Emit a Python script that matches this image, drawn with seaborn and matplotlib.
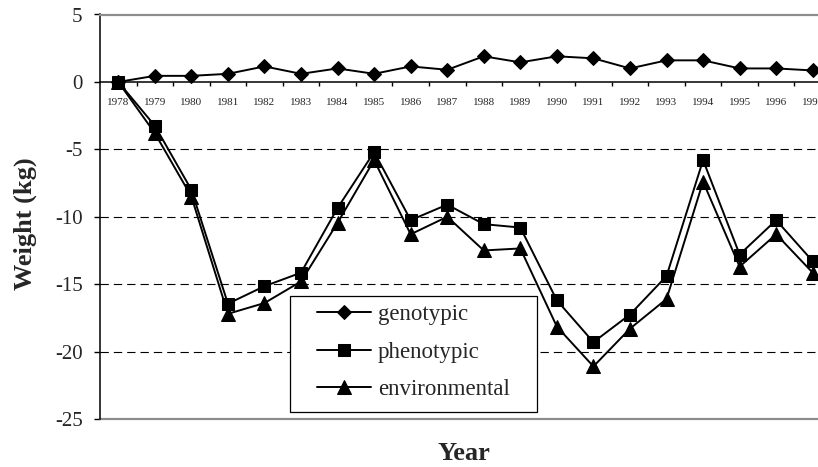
import numpy as np
import pandas as pd
import matplotlib
matplotlib.use("Agg")
import matplotlib.pyplot as plt
from matplotlib.patches import Rectangle
from matplotlib.ticker import FixedLocator
import seaborn as sns

years = list(range(1978, 1998))
genotypic = [0.0, 0.45, 0.45, 0.6, 1.15, 0.6, 1.0, 0.6, 1.15, 0.9,
             1.9, 1.45, 1.9, 1.75, 1.0, 1.6, 1.6, 1.0, 1.0, 0.85]
phenotypic = [0.0, -3.25, -8.0, -16.45, -15.15, -14.15, -9.35, -5.2, -10.25, -9.1,
              -10.55, -10.8, -16.2, -19.3, -17.25, -14.4, -5.8, -12.8, -10.25, -13.3]
environmental = [0.0, -3.8, -8.5, -17.2, -16.4, -14.8, -10.45, -5.8, -11.3, -10.0,
                 -12.5, -12.35, -18.15, -21.1, -18.3, -16.1, -7.4, -13.7, -11.3, -14.15]
series_names = ["genotypic", "phenotypic", "environmental"]
y_ticks = [5, 0, -5, -10, -15, -20, -25]
x_label = "Year"
y_label = "Weight (kg)"

df = pd.DataFrame({
    "year": years * 3,
    "weight": genotypic + phenotypic + environmental,
    "series": sum([[n] * len(years) for n in series_names], []),
})

sns.set_style("white")
plt.rcParams["font.family"] = ["Liberation Serif", "DejaVu Serif"]

W, H = 818, 467
fig = plt.figure(figsize=(W / 100, H / 100), dpi=100)
ax_left, ax_right, ax_top, ax_bottom = 100, 831, 14.5, 419
ax = fig.add_axes([ax_left / W, (H - ax_bottom) / H,
                   (ax_right - ax_left) / W, (ax_bottom - ax_top) / H])

styles = {"genotypic": ("D", 6.8), "phenotypic": ("s", 8.8), "environmental": ("^", 9.6)}
for name in series_names:
    m, ms = styles[name]
    sns.lineplot(data=df[df["series"] == name], x="year", y="weight", ax=ax,
                 color="black", marker=m, markersize=ms, markeredgecolor="black",
                 linewidth=1.4, label=name, zorder=3, clip_on=True)

ax.set_xlim(years[0] - 0.5, years[-1] + 0.5)
ax.set_ylim(min(y_ticks), max(y_ticks))

# y axis
ax.yaxis.set_major_locator(FixedLocator(y_ticks))
ax.set_yticklabels([str(t) for t in y_ticks])
ax.tick_params(axis="y", which="major", direction="out", length=4.5, width=1,
               color="black", pad=8, labelsize=15, left=True)
ax.grid(axis="y", color="black", lw=0.8, ls=(0, (7.5, 4.5)))
ax.grid(axis="x", visible=False)
for t, loc in zip(ax.yaxis.get_major_ticks(), ax.yaxis.get_majorticklocs()):
    if loc in (max(y_ticks), min(y_ticks), 0):
        t.gridline.set_visible(False)

# x axis at zero
ax.spines["bottom"].set_position(("data", 0))
ax.spines["bottom"].set_color("black")
ax.spines["bottom"].set_linewidth(1.1)
ax.spines["left"].set_color("black")
ax.spines["left"].set_linewidth(1.1)
ax.spines["top"].set_color("#8c8c8c")
ax.spines["top"].set_linewidth(1.6)
ax.spines["right"].set_visible(False)
ax.axhline(min(y_ticks), color="#8c8c8c", lw=1.6, zorder=2.5, clip_on=False)

ax.xaxis.set_major_locator(FixedLocator(years))
ax.set_xticklabels([str(y) for y in years])
ax.xaxis.set_minor_locator(FixedLocator([y + 0.5 for y in years[:-1]]))
ax.tick_params(axis="x", which="major", length=0, pad=11.5, labelsize=8, bottom=True)
ax.tick_params(axis="x", which="minor", direction="out", length=3, width=1,
               color="black", bottom=True)

ax.set_xlabel(x_label, fontsize=19, fontweight="bold")
ax.set_ylabel(y_label, fontsize=19, fontweight="bold")
ax.xaxis.set_label_coords((464 - ax_left) / (ax_right - ax_left), -0.056)
ax.yaxis.set_label_coords((37 - ax_left) / (ax_right - ax_left), 0.482)

# legend box
bx0, by0, bx1, by1 = 290, 296, 537, 412
ax.add_patch(Rectangle((bx0 / W, 1 - by1 / H), (bx1 - bx0) / W, (by1 - by0) / H,
                       transform=fig.transFigure, facecolor="white",
                       edgecolor="black", lw=0.9, zorder=4, clip_on=False))
leg = ax.legend(loc="upper left", bbox_to_anchor=(317 / W, 1 - 304 / H),
                bbox_transform=fig.transFigure, frameon=False, fontsize=16.5,
                handlelength=2.35, handletextpad=0.3, labelspacing=0.72,
                borderpad=0, borderaxespad=0)
leg.set_zorder(5)

fig.savefig("out.png", dpi=100)
